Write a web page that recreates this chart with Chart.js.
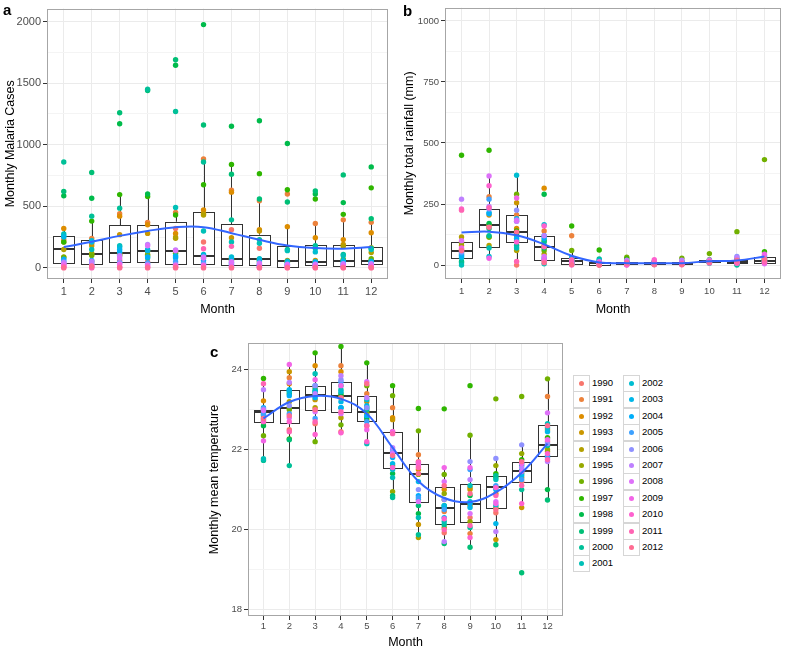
<!DOCTYPE html>
<html>
<head>
<meta charset="utf-8">
<script src="https://cdn.jsdelivr.net/npm/chart.js@4.4.1/dist/chart.umd.min.js"></script>
<style>
  body { margin: 0; background: #fff; font-family: "Liberation Sans", Arial, sans-serif; }
  #page { position: relative; width: 785px; height: 649px; overflow: hidden; }
  canvas { position: absolute; }
  .tag { position: absolute; font-weight: bold; font-size: 15px; line-height: 1; color: #000; }
  #legend { position: absolute; left: 573px; top: 375px; }
  .item { position: absolute; height: 16px; }
  .key { position: absolute; left: 0; top: 0; width: 15px; height: 15px; border: 1px solid #d6d6d6; background: #fff; }
  .dot { position: absolute; left: 5px; top: 5px; width: 5px; height: 5px; border-radius: 50%; }
  .lab { position: absolute; left: 19px; top: 2px; font-size: 9.5px; color: #000; white-space: nowrap; }
</style>
</head>
<body>
<div id="page">
  <canvas id="chartA" width="392" height="320" style="left:0;top:0"></canvas>
  <canvas id="chartB" width="393" height="320" style="left:392px;top:0"></canvas>
  <canvas id="chartC" width="380" height="322" style="left:190px;top:330px"></canvas>
  <div class="tag" style="left:3px;top:2px">a</div>
  <div class="tag" style="left:403px;top:3px">b</div>
  <div class="tag" style="left:210px;top:344px">c</div>
  <div id="legend"></div>
</div>
<script>
const monthLabels = [1, 2, 3, 4, 5, 6, 7, 8, 9, 10, 11, 12];
const yearLabels = ['1990', '1991', '1992', '1993', '1994', '1995', '1996', '1997', '1998', '1999', '2000',
  '2001', '2002', '2003', '2004', '2005', '2006', '2007', '2008', '2009', '2010', '2011', '2012'];

// one row per month, one value per year (1990..2012)
const malaria = [
  [30, 230, 320, 210, 150, 90, 85, 210, 585, 620, 860, 275, 260, 250, 70, 55, 40, 45, 30, 15, 10, 5, 0],
  [50, 240, 200, 180, 120, 110, 100, 380, 565, 775, 420, 150, 220, 210, 60, 40, 30, 55, 20, 10, 5, 0, 15],
  [60, 440, 420, 270, 120, 110, 100, 595, 1170, 1260, 485, 180, 170, 150, 130, 45, 40, 100, 80, 30, 10, 5, 0],
  [50, 370, 350, 280, 135, 110, 100, 580, 600, 1440, 1450, 80, 150, 140, 90, 40, 30, 190, 180, 20, 10, 5, 0],
  [320, 450, 280, 250, 240, 135, 120, 430, 1645, 1690, 1270, 490, 100, 80, 90, 50, 30, 145, 140, 20, 10, 5, 0],
  [210, 885, 470, 440, 430, 95, 80, 675, 1975, 1160, 860, 300, 110, 100, 60, 40, 30, 90, 80, 20, 10, 155, 0],
  [310, 630, 615, 245, 80, 75, 60, 840, 1150, 760, 390, 210, 90, 70, 40, 30, 20, 50, 45, 10, 5, 175, 0],
  [160, 545, 310, 300, 70, 65, 50, 765, 1195, 560, 230, 200, 75, 60, 30, 20, 15, 40, 30, 10, 5, 3, 0],
  [20, 600, 335, 60, 55, 50, 45, 635, 1010, 535, 150, 140, 55, 40, 30, 20, 15, 30, 25, 10, 5, 3, 0],
  [20, 360, 245, 60, 50, 45, 40, 560, 600, 625, 180, 160, 130, 50, 40, 30, 20, 30, 25, 10, 5, 3, 0],
  [20, 390, 230, 190, 175, 60, 70, 435, 530, 755, 110, 100, 60, 50, 40, 30, 20, 35, 25, 10, 5, 3, 0],
  [20, 370, 285, 165, 125, 60, 75, 650, 820, 400, 160, 150, 55, 50, 40, 30, 20, 35, 25, 10, 5, 3, 0]
];
// q1, median, q3, lower whisker, upper whisker
const malariaBoxes = [
  [40, 155, 255, 0, 325], [30, 115, 225, 0, 385], [50, 120, 345, 0, 595], [45, 135, 345, 0, 600],
  [35, 135, 375, 0, 450], [35, 95, 455, 0, 885], [25, 75, 355, 0, 840], [20, 70, 270, 0, 560],
  [10, 55, 175, 0, 335], [20, 50, 185, 0, 360], [15, 60, 185, 0, 390], [30, 55, 170, 0, 400]
];
const malariaSmooth = [169, 212, 260, 300, 330, 331, 282, 228, 182, 161, 156, 169];
const malariaTicks = [0, 500, 1000, 1500, 2000];
const malariaMinor = [250, 750, 1250, 1750];

const rainfall = [
  [60, 65, 80, 95, 115, 90, 55, 450, 45, 15, 10, 0, 30, 35, 40, 50, 55, 270, 100, 70, 230, 225, 60],
  [160, 280, 205, 165, 80, 115, 115, 470, 170, 150, 120, 70, 35, 215, 210, 270, 230, 240, 365, 28, 325, 235, 155],
  [0, 205, 150, 255, 60, 120, 290, 140, 130, 100, 80, 70, 368, 190, 110, 180, 225, 185, 180, 275, 95, 15, 135],
  [75, 140, 315, 80, 45, 20, 60, 100, 290, 70, 95, 5, 165, 120, 110, 30, 25, 120, 35, 20, 160, 75, 10],
  [10, 120, 25, 15, 10, 5, 60, 160, 20, 30, 15, 5, 10, 20, 28, 5, 3, 18, 12, 8, 0, 22, 2],
  [5, 3, 8, 2, 0, 5, 10, 62, 15, 8, 25, 4, 20, 7, 12, 3, 5, 6, 2, 14, 1, 7, 0],
  [3, 8, 5, 10, 2, 12, 32, 25, 8, 14, 6, 4, 10, 15, 3, 7, 9, 20, 1, 5, 0, 12, 6],
  [5, 8, 10, 4, 12, 7, 3, 15, 9, 6, 11, 2, 8, 5, 14, 6, 10, 4, 16, 3, 22, 8, 1],
  [5, 4, 8, 6, 12, 9, 28, 15, 7, 3, 10, 5, 12, 8, 4, 6, 14, 20, 3, 9, 2, 7, 1],
  [12, 15, 10, 18, 14, 20, 47, 22, 13, 16, 11, 8, 15, 12, 17, 14, 19, 21, 10, 13, 16, 9, 12],
  [10, 12, 8, 15, 20, 6, 137, 25, 12, 5, 0, 9, 14, 18, 11, 7, 35, 30, 15, 10, 13, 8, 20],
  [15, 20, 12, 25, 18, 10, 432, 55, 30, 20, 22, 16, 35, 28, 14, 12, 40, 18, 5, 45, 10, 15, 25]
];
const rainfallBoxes = [
  [31, 56, 96, 0, 115], [73, 166, 229, 28, 365], [95, 137, 206, 0, 368], [20, 76, 118, 0, 167],
  [4, 18, 28, 0, 60], [1, 7, 14, 0, 25], [3, 8, 14, 0, 30], [3, 8, 12, 0, 22],
  [3, 7, 14, 0, 27], [11, 14, 20, 8, 30], [7, 12, 20, 0, 33], [10, 18, 33, 0, 55]
];
const rainfallSmooth = [133, 137, 122, 85, 38, 11, 8, 8, 8, 16, 19, 35];
const rainfallTicks = [0, 250, 500, 750, 1000];
const rainfallMinor = [125, 375, 625, 875];

const temperature = [
  [22.9, 22.8, 23.22, 22.95, 22.7, 22.85, 22.35, 23.78, 22.6, 22.75, 21.73, 21.77, 23.0, 22.92, 23.05, 22.88, 23.02, 23.5, 22.98, 22.22, 22.7, 23.65, 22.78],
  [22.5, 23.8, 23.65, 23.95, 23.2, 23.05, 23.0, 22.27, 23.4, 22.25, 21.6, 23.48, 23.45, 23.5, 23.35, 22.9, 23.1, 23.68, 22.8, 24.13, 22.7, 22.45, 22.85],
  [22.65, 23.55, 24.1, 23.25, 23.05, 23.35, 22.2, 24.42, 23.4, 23.45, 23.5, 23.9, 23.6, 23.45, 23.3, 22.78, 23.6, 23.4, 22.95, 23.75, 22.38, 22.7, 23.0],
  [22.45, 24.1, 23.95, 23.3, 22.8, 23.35, 22.62, 24.58, 23.4, 23.05, 23.6, 23.5, 23.45, 23.2, 23.05, 23.7, 23.75, 23.85, 22.9, 23.6, 22.42, 22.95, 23.3],
  [22.6, 23.4, 23.2, 22.9, 22.75, 22.95, 23.6, 24.17, 22.8, 23.05, 23.0, 22.15, 23.25, 23.1, 22.85, 22.7, 23.05, 23.3, 23.7, 22.5, 22.2, 22.6, 23.65],
  [22.45, 23.05, 22.8, 22.75, 21.6, 20.95, 23.35, 23.6, 21.4, 20.85, 20.8, 21.3, 21.5, 21.65, 21.8, 22.0, 21.95, 22.05, 21.9, 22.45, 21.55, 22.4, 21.85],
  [21.7, 21.87, 21.5, 20.13, 19.8, 21.38, 22.47, 23.03, 20.4, 20.6, 19.87, 20.3, 20.75, 21.2, 20.85, 20.8, 21.0, 21.65, 20.7, 21.6, 21.68, 21.55, 21.4],
  [19.92, 20.45, 21.0, 20.75, 20.05, 20.9, 21.38, 23.02, 20.6, 19.65, 20.12, 20.2, 20.55, 20.6, 20.3, 20.5, 20.75, 19.7, 21.2, 21.55, 20.27, 20.0, 21.1],
  [20.3, 19.9, 21.05, 21.0, 20.6, 20.2, 22.36, 23.6, 20.85, 19.56, 20.05, 21.1, 20.7, 20.55, 20.65, 21.5, 21.7, 21.25, 20.4, 21.55, 19.8, 20.1, 20.9],
  [20.42, 21.05, 20.9, 19.75, 20.55, 21.6, 23.27, 21.4, 21.3, 19.62, 21.35, 21.25, 20.6, 20.15, 21.0, 21.1, 21.78, 19.95, 20.7, 20.65, 21.05, 20.85, 20.5],
  [21.2, 21.5, 21.3, 20.55, 21.45, 21.9, 23.33, 21.75, 21.4, 18.92, 21.0, 21.6, 21.5, 21.35, 21.65, 21.25, 22.12, 21.55, 21.45, 21.65, 20.65, 21.1, 21.7],
  [22.2, 23.33, 22.5, 22.1, 21.95, 22.0, 23.77, 22.3, 21.0, 20.74, 22.1, 22.65, 22.55, 22.45, 21.85, 21.8, 22.15, 21.7, 22.92, 22.25, 21.9, 21.75, 22.6]
];
const temperatureBoxes = [
  [22.68, 22.93, 23.0, 21.73, 23.78], [22.67, 23.05, 23.48, 21.6, 24.13], [22.99, 23.37, 23.58, 22.18, 24.42],
  [22.95, 23.34, 23.69, 22.42, 24.58], [22.71, 22.95, 23.35, 22.15, 24.17], [21.54, 21.91, 22.44, 20.8, 23.6],
  [20.7, 21.38, 21.64, 19.8, 22.47], [20.14, 20.55, 21.07, 19.66, 21.58], [20.18, 20.63, 21.14, 19.56, 22.36],
  [20.54, 21.06, 21.34, 19.62, 21.78], [21.18, 21.47, 21.68, 20.55, 22.12], [21.85, 22.12, 22.62, 20.74, 23.77]
];
const temperatureSmooth = [22.78, 23.19, 23.34, 23.27, 22.9, 22.05, 21.21, 20.79, 20.69, 20.93, 21.42, 22.15];
const temperatureTicks = [18, 20, 22, 24];
const temperatureMinor = [19, 21, 23];

const family = '"Liberation Sans", Arial, sans-serif';

// ggplot-style hue palette (hcl, c = 100, l = 65)
function hcl(h, c, l) {
  const r = h * Math.PI / 180;
  const U = c * Math.cos(r), V = c * Math.sin(r);
  const Y = Math.pow((l + 16) / 116, 3);
  const u = U / (13 * l) + 0.1978398, v = V / (13 * l) + 0.4683363;
  const X = 9 * Y * u / (4 * v);
  const Z = -X / 3 - 5 * Y + 3 * Y / v;
  const g = t => {
    t = t > 0.00304 ? 1.055 * Math.pow(t, 1 / 2.4) - 0.055 : 12.92 * t;
    return Math.round(255 * Math.min(1, Math.max(0, t)));
  };
  return `rgb(${g(3.240479 * X - 1.537150 * Y - 0.498535 * Z)},${g(-0.969256 * X + 1.875992 * Y + 0.041556 * Z)},${g(0.055648 * X - 0.204043 * Y + 1.057311 * Z)})`;
}
const yearColors = yearLabels.map((_, i) => hcl(15 + i * 360 / yearLabels.length, 100, 65));

const boxPlugin = {
  id: 'boxes',
  beforeDatasetsDraw(chart, args, opts) {
    const {ctx, chartArea: a, scales: {x, y}} = chart;
    ctx.save();
    ctx.beginPath();
    ctx.rect(a.left, a.top, a.width, a.height);
    ctx.clip();
    ctx.strokeStyle = '#333';
    opts.boxes.forEach((b, i) => {
      const m = monthLabels[i];
      const cx = Math.round(x.getPixelForValue(m)) + 0.5;
      const x0 = Math.round(x.getPixelForValue(m - 0.375)) + 0.5;
      const x1 = Math.round(x.getPixelForValue(m + 0.375)) + 0.5;
      const [q1, med, q3, lo, hi] = b.map(v => y.getPixelForValue(v));
      ctx.lineWidth = 1;
      ctx.beginPath();
      ctx.moveTo(cx, lo); ctx.lineTo(cx, hi);
      ctx.stroke();
      ctx.fillStyle = '#fff';
      ctx.fillRect(x0, q3, x1 - x0, q1 - q3);
      ctx.strokeRect(x0, Math.round(q3) + 0.5, x1 - x0, Math.round(q1) - Math.round(q3));
      ctx.lineWidth = 2;
      ctx.beginPath();
      ctx.moveTo(x0, Math.round(med)); ctx.lineTo(x1, Math.round(med));
      ctx.stroke();
    });
    ctx.restore();
  },
  afterDraw(chart) {
    const {ctx, chartArea: a} = chart;
    ctx.save();
    ctx.strokeStyle = '#a6a6a6';
    ctx.lineWidth = 1;
    ctx.strokeRect(Math.round(a.left) + 0.5, Math.round(a.top) + 0.5, Math.round(a.width) - 1, Math.round(a.height) - 1);
    ctx.restore();
  }
};

function buildPanel(id, cfg) {
  const datasets = yearLabels.map((yr, i) => ({
    label: yr,
    data: monthLabels.map((m, k) => ({x: m, y: cfg.values[k][i]})),
    backgroundColor: yearColors[i],
    borderWidth: 0,
    pointRadius: 2.7,
    order: yearLabels.length - i
  }));
  datasets.push({
    label: 'smooth',
    data: monthLabels.map((m, k) => ({x: m, y: cfg.smooth[k]})),
    showLine: true,
    tension: 0.4,
    borderColor: '#3366FF',
    borderWidth: 2,
    pointRadius: 0,
    order: 0
  });

  new Chart(document.getElementById(id), {
    type: 'scatter',
    data: {datasets},
    options: {
      responsive: false,
      animation: false,
      events: [],
      layout: {padding: {top: cfg.padTop, right: cfg.padRight, left: 0, bottom: 0}},
      plugins: {legend: {display: false}, tooltip: {enabled: false}, boxes: {boxes: cfg.boxes}},
      scales: {
        x: {
          type: 'linear', min: 0.4, max: 12.6,
          afterBuildTicks: s => { s.ticks = monthLabels.map(v => ({value: v})); },
          afterFit: s => { s.height = cfg.xHeight; },
          grid: {color: '#ebebeb', tickColor: '#333', tickLength: cfg.tickLen},
          border: {display: false},
          ticks: {color: '#4d4d4d', font: {size: cfg.tickSize, family}, padding: cfg.xPad,
            maxRotation: 0, autoSkip: false, callback: v => String(v)},
          title: {display: true, text: 'Month', color: '#000', font: {size: 12.5, family},
            padding: {top: 0, bottom: cfg.xTitlePad}}
        },
        y: {
          type: 'linear', min: cfg.min, max: cfg.max,
          afterBuildTicks: s => { s.ticks = cfg.major.concat(cfg.minor).sort((p, q) => p - q).map(v => ({value: v})); },
          afterFit: s => { s.width = cfg.yWidth; },
          grid: {
            color: c => (c.tick && cfg.minor.includes(c.tick.value)) ? '#f4f4f4' : '#ebebeb',
            tickColor: c => (c.tick && cfg.minor.includes(c.tick.value)) ? 'rgba(0,0,0,0)' : '#333',
            tickLength: cfg.tickLen
          },
          border: {display: false},
          ticks: {color: '#4d4d4d', font: {size: cfg.tickSize, family}, padding: cfg.yPad, autoSkip: false,
            callback: v => cfg.major.includes(v) ? String(v) : ''},
          title: {display: true, text: cfg.title, color: '#000', font: {size: 12.5, family},
            padding: {top: cfg.yTitlePad, bottom: 0}}
        }
      }
    },
    plugins: [boxPlugin]
  });
}

buildPanel('chartA', {
  values: malaria, boxes: malariaBoxes, smooth: malariaSmooth, major: malariaTicks, minor: malariaMinor,
  min: -90, max: 2105, title: 'Monthly Malaria Cases',
  padTop: 7, padRight: 4, yWidth: 47, xHeight: 41, tickLen: 4, tickSize: 11, xPad: 2, yPad: 2,
  xTitlePad: 3, yTitlePad: 3
});
buildPanel('chartB', {
  values: rainfall, boxes: rainfallBoxes, smooth: rainfallSmooth, major: rainfallTicks, minor: rainfallMinor,
  min: -57, max: 1054, title: 'Monthly total rainfall (mm)',
  padTop: 7, padRight: 3, yWidth: 53, xHeight: 41, tickLen: 4, tickSize: 9.5, xPad: 3, yPad: 2,
  xTitlePad: 3, yTitlePad: 10
});
buildPanel('chartC', {
  values: temperature, boxes: temperatureBoxes, smooth: temperatureSmooth, major: temperatureTicks, minor: temperatureMinor,
  min: 17.84, max: 24.666, title: 'Monthly mean temperature',
  padTop: 13, padRight: 7, yWidth: 58, xHeight: 36, tickLen: 4, tickSize: 9.5, xPad: 1, yPad: 2,
  xTitlePad: 2, yTitlePad: 17
});

const legend = document.getElementById('legend');
yearLabels.forEach((yr, i) => {
  const col = i < 12 ? 0 : 1;
  const row = i < 12 ? i : i - 12;
  const item = document.createElement('div');
  item.className = 'item';
  item.style.left = (col * 50) + 'px';
  item.style.top = (row * 16.4) + 'px';
  item.innerHTML = `<span class="key"><span class="dot" style="background:${yearColors[i]}"></span></span><span class="lab">${yr}</span>`;
  legend.appendChild(item);
});
</script>
</body>
</html>
